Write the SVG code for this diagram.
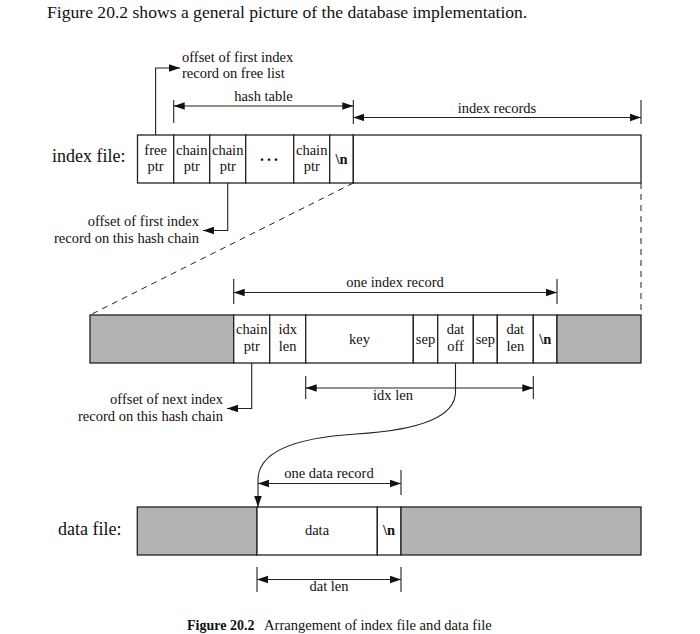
<svg xmlns="http://www.w3.org/2000/svg" width="700" height="634" viewBox="0 0 700 634">
<defs>
<marker id="ah" markerUnits="userSpaceOnUse" markerWidth="12" markerHeight="8" refX="11" refY="3.75" orient="auto-start-reverse">
<path d="M0,0 L11,3.75 L0,7.5 z" fill="#111"/>
</marker>
</defs>
<style>
text { font-family: "Liberation Serif", "Times New Roman", serif; fill: #111; }
.lbl { font-size: 14.5px; text-anchor: middle; }
.note { font-size: 14.5px; }
.end { text-anchor: end; }
.big { font-size: 18px; }
.w { fill: #fff; stroke: #222; stroke-width: 1.3; }
.g { fill: #b3b3b3; stroke: #222; stroke-width: 1.3; }
.ln { fill: none; stroke: #222; stroke-width: 1.1; }
.arr { marker-end: url(#ah); }
.dim { marker-start: url(#ah); marker-end: url(#ah); }
.dash { fill: none; stroke: #222; stroke-width: 1; stroke-dasharray: 6 5; }
</style>
<rect width="700" height="634" fill="#fff"/>

<text x="47" y="18" style="font-size:17.6px">Figure 20.2 shows a general picture of the database implementation.</text>

<g id="index-file">
<text x="52" y="162" class="big">index file:</text>
<rect class="w" x="137.5" y="135" width="36.2" height="48"/>
<rect class="w" x="173.7" y="135" width="36" height="48"/>
<rect class="w" x="209.7" y="135" width="36" height="48"/>
<rect class="w" x="245.7" y="135" width="48" height="48"/>
<rect class="w" x="293.7" y="135" width="36" height="48"/>
<rect class="w" x="329.7" y="135" width="23.6" height="48"/>
<rect class="w" x="353.3" y="135" width="287.7" height="48"/>
<text class="lbl" x="155.6" y="155">free</text><text class="lbl" x="155.6" y="171">ptr</text>
<text class="lbl" x="191.7" y="155">chain</text><text class="lbl" x="191.7" y="171">ptr</text>
<text class="lbl" x="227.7" y="155">chain</text><text class="lbl" x="227.7" y="171">ptr</text>
<text class="lbl" x="270.5" y="161" style="font-size:16px;font-weight:bold;letter-spacing:3px">...</text>
<text class="lbl" x="311.7" y="155">chain</text><text class="lbl" x="311.7" y="171">ptr</text>
<text class="lbl" x="341.5" y="164" style="font-weight:bold">\n</text>
</g>

<g id="index-record">
<rect class="g" x="90" y="315" width="143.7" height="48"/>
<rect class="w" x="233.7" y="315" width="36" height="48"/>
<rect class="w" x="269.7" y="315" width="36" height="48"/>
<rect class="w" x="305.7" y="315" width="107.6" height="48"/>
<rect class="w" x="413.3" y="315" width="24.4" height="48"/>
<rect class="w" x="437.7" y="315" width="35.6" height="48"/>
<rect class="w" x="473.3" y="315" width="24" height="48"/>
<rect class="w" x="497.3" y="315" width="36" height="48"/>
<rect class="w" x="533.3" y="315" width="23.7" height="48"/>
<rect class="g" x="557" y="315" width="84" height="48"/>
<text class="lbl" x="251.7" y="334">chain</text><text class="lbl" x="251.7" y="351">ptr</text>
<text class="lbl" x="287.7" y="334">idx</text><text class="lbl" x="287.7" y="351">len</text>
<text class="lbl" x="359.5" y="344">key</text>
<text class="lbl" x="425.5" y="344">sep</text>
<text class="lbl" x="455.5" y="334">dat</text><text class="lbl" x="455.5" y="351">off</text>
<text class="lbl" x="485.3" y="344">sep</text>
<text class="lbl" x="515.3" y="334">dat</text><text class="lbl" x="515.3" y="351">len</text>
<text class="lbl" x="545.2" y="344" style="font-weight:bold">\n</text>
</g>

<g id="data-file">
<text x="58" y="535" class="big">data file:</text>
<rect class="g" x="137.3" y="507" width="119.7" height="48"/>
<rect class="w" x="257" y="507" width="120.3" height="48"/>
<rect class="w" x="377.3" y="507" width="23.7" height="48"/>
<rect class="g" x="401" y="507" width="240" height="48"/>
<text class="lbl" x="317" y="535">data</text>
<text class="lbl" x="389" y="535" style="font-weight:bold">\n</text>
</g>

<g id="connectors">
<path class="ln arr" d="M155.6,135 V68 H180"/>
<path class="ln arr" d="M227.7,183 V230.5 H203"/>
<path class="ln arr" d="M251.7,363 V408.5 H227"/>
<path class="ln arr" d="M455.5,363 V392 Q455.5,428 356,434 Q258,440 258,480 V507"/>
<path class="dash" d="M353.3,183 L90,315"/>
<path class="dash" d="M641,183 V315"/>
<path class="ln" d="M173.7,100 V123 M353.3,100 V124 M641,100 V124"/>
<path class="ln dim" d="M173.7,106 H353.3"/>
<path class="ln dim" d="M353.3,117.5 H641"/>
<path class="ln" d="M233.7,279 V304 M557,279 V304"/>
<path class="ln dim" d="M233.7,292.5 H557"/>
<path class="ln" d="M305.7,376 V399 M533.3,376 V399"/>
<path class="ln dim" d="M305.7,388 H533.3"/>
<path class="ln" d="M401,470 V495"/>
<path class="ln dim" d="M258,483.5 H401"/>
<path class="ln" d="M257,567 V592 M401,567 V592"/>
<path class="ln dim" d="M257,579.5 H401"/>
</g>

<g id="labels">
<text class="note" x="182" y="62">offset of first index</text>
<text class="note" x="182" y="78">record on free list</text>
<text class="lbl" x="263.5" y="101">hash table</text>
<text class="lbl" x="497" y="113">index records</text>
<text class="note end" x="199" y="226">offset of first index</text>
<text class="note end" x="199" y="243">record on this hash chain</text>
<text class="lbl" x="395" y="287">one index record</text>
<text class="note end" x="223" y="404">offset of next index</text>
<text class="note end" x="223" y="421">record on this hash chain</text>
<text class="lbl" x="393" y="399.5">idx len</text>
<text class="lbl" x="329" y="478">one data record</text>
<text class="lbl" x="329" y="591">dat len</text>
</g>

<text x="187" y="630" style="font-size:14.6px"><tspan style="font-weight:bold;font-size:14px">Figure 20.2</tspan><tspan x="264">Arrangement of index file and data file</tspan></text>
</svg>
